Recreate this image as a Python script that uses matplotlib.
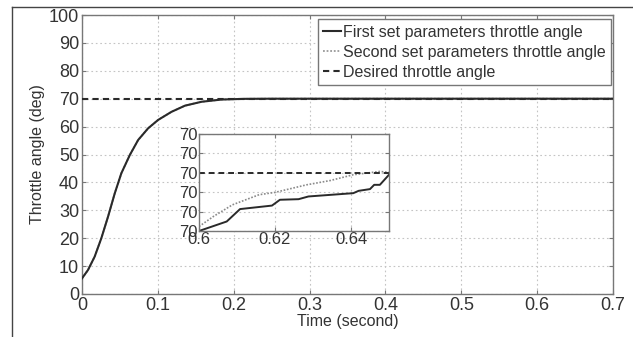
import numpy as np
import matplotlib
matplotlib.use("Agg")
import matplotlib.pyplot as plt
from matplotlib.lines import Line2D
from matplotlib.ticker import FormatStrFormatter

plt.rcParams['font.family'] = ['Liberation Sans', 'DejaVu Sans']

# step response of the throttle angle (deg)
t_main = [0.0, 0.0079, 0.0167, 0.0255, 0.0343, 0.0432, 0.0519, 0.063, 0.074, 0.0872,
          0.1004, 0.118, 0.1357, 0.1576, 0.184, 0.215, 0.25, 0.7]
first_main = [5.6, 8.6, 13.4, 20.0, 27.7, 36.1, 43.3, 49.8, 55.2, 59.4,
              62.4, 65.3, 67.5, 68.9, 69.7, 69.95, 70.0, 70.0]
second_main = [5.6, 8.6, 13.4, 20.0, 27.7, 36.1, 43.3, 49.8, 55.2, 59.4,
               62.4, 65.3, 67.5, 68.9, 69.7, 69.95, 70.0, 70.0]
desired = 70.0

# zoomed section between 0.6 s and 0.65 s
t_first = [0.6, 0.6073, 0.6108, 0.6192, 0.6213, 0.6262, 0.6288, 0.6406, 0.6420, 0.6450, 0.6461, 0.6476, 0.65]
first_zoom = [69.99700, 69.99749, 69.99813, 69.99831, 69.99861, 69.99864, 69.99878,
              69.99895, 69.99907, 69.99916, 69.99938, 69.99938, 69.99990]
t_second = [0.6, 0.6038, 0.6088, 0.6158, 0.62, 0.6283, 0.6345, 0.6406, 0.6476, 0.65]
second_zoom = [69.99723, 69.99775, 69.99835, 69.99887, 69.99899, 69.99938, 69.99960,
               69.99990, 70.00007, 70.00002]

main_xticks = [0, 0.1, 0.2, 0.3, 0.4, 0.5, 0.6, 0.7]
main_yticks = [0, 10, 20, 30, 40, 50, 60, 70, 80, 90, 100]
zoom_xticks = [0.6, 0.62, 0.64]
zoom_yticks = [69.997, 69.998, 69.999, 70.000, 70.001, 70.002]

W, H = 633, 337
fig = plt.figure(figsize=(W / 100, H / 100), dpi=100)
fig.patch.set_facecolor('white')

txt = '#333333'
line_c = '#2a2a2a'
spine_c = '#777777'
grid_c = '#c4c4c4'


def style_axes(ax, size):
    for s in ax.spines.values():
        s.set_color(spine_c)
        s.set_linewidth(1.0)
    ax.tick_params(direction='in', top=True, right=True, length=3,
                   color=spine_c, labelsize=size, labelcolor=txt, pad=2)
    ax.grid(True, linestyle=(0, (1.5, 2.5)), color=grid_c, linewidth=0.8)


ax = fig.add_axes([82 / W, 1 - 294 / H, (613 - 82) / W, (294 - 15) / H])
ax.plot(t_main, second_main, color='#9a9a9a', lw=1.3, linestyle=(0, (1, 1)),
        label='Second set parameters throttle angle', zorder=3)
ax.plot(t_main, first_main, color=line_c, lw=1.5,
        label='First set parameters throttle angle', zorder=4)
ax.axhline(desired, color=line_c, lw=1.5, linestyle=(0, (3, 2)),
           label='Desired throttle angle', zorder=5)
ax.set_xlim(0, 0.7)
ax.set_ylim(0, 100)
ax.set_xticks(main_xticks)
ax.set_yticks(main_yticks)
ax.set_xticklabels(['0', '0.1', '0.2', '0.3', '0.4', '0.5', '0.6', '0.7'])
style_axes(ax, 13)
ax.set_xlabel('Time (second)', fontsize=11.5, color=txt, labelpad=0)
ax.set_ylabel('Throttle angle (deg)', fontsize=11.5, color=txt, labelpad=3)

h, l = ax.get_legend_handles_labels()
order = [1, 0, 2]
leg = ax.legend([h[i] for i in order], [l[i] for i in order], loc='upper right',
                fontsize=11.5, handlelength=1.1, handletextpad=0.15,
                borderpad=0.35, labelspacing=0.3, fancybox=False,
                bbox_to_anchor=(0.997, 0.984), borderaxespad=0, framealpha=1)
leg.get_frame().set_edgecolor(spine_c)
leg.get_frame().set_linewidth(1.0)
for t in leg.get_texts():
    t.set_color(txt)

# inset with the zoomed section
ins = fig.add_axes([199 / W, 1 - 231 / H, (389 - 199) / W, (231 - 134) / H])
ins.plot(t_second, second_zoom, color='#8a8a8a', lw=1.2, linestyle=(0, (1, 1)))
ins.plot(t_first, first_zoom, color=line_c, lw=1.4)
ins.axhline(desired, color=line_c, lw=1.4, linestyle=(0, (3, 2)))
ins.set_xlim(0.6, 0.65)
ins.set_ylim(69.997, 70.002)
ins.set_xticks(zoom_xticks)
ins.set_yticks(zoom_yticks)
ins.xaxis.set_major_formatter(FormatStrFormatter('%g'))
ins.yaxis.set_major_formatter(FormatStrFormatter('%.0f'))
style_axes(ins, 12)
ins.tick_params(axis='y', pad=1)
ins.tick_params(axis='x', pad=1)
ins.set_facecolor('white')

# page frame around the figure
fig.add_artist(Line2D([12 / W, 1], [1 - 7 / H, 1 - 7 / H], color='#444444', lw=1.0))
fig.add_artist(Line2D([12 / W, 12 / W], [0, 1 - 7 / H], color='#444444', lw=1.0))

fig.savefig('out.png', dpi=100)
